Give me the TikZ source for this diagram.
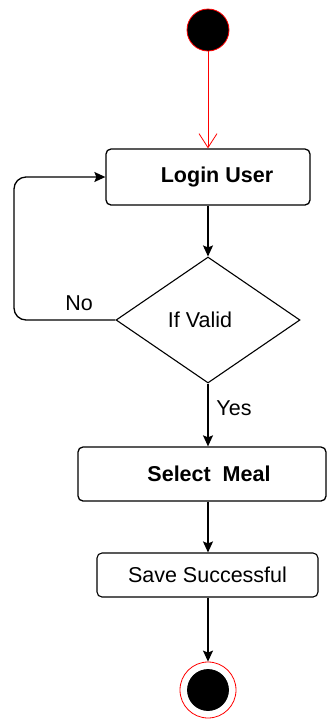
\documentclass[tikz,border=0pt]{standalone}
\usepackage{fontspec}
\setmainfont{Liberation Sans}
\usetikzlibrary{shapes.geometric,arrows.meta,positioning}

\tikzset{
  activity/.style={draw, rounded corners=5pt, line width=1.3pt, inner sep=0pt},
  flow/.style={-{Stealth[length=11pt,width=10pt,inset=2pt]}, line width=1.3pt},
  dot/.style={circle, fill=black, draw=red, line width=0.8pt, minimum size=42pt, inner sep=0pt}
}

\begin{document}
\begin{tikzpicture}[x=1pt, y=-1pt, font=\fontsize{21.5}{25}\selectfont]
\useasboundingbox (0,0) rectangle (328,721);
\node [dot] (start) at (208,30) {};
\node [activity, minimum width=204pt, minimum height=56pt] (login) at (208,177) {\hspace*{18pt}\textbf{Login User}};
\node [draw, diamond, line width=1.1pt, minimum width=184pt, minimum height=126pt, aspect=1.46, inner sep=0pt] (valid) at (208,320) {If Valid\hspace*{16pt}};
\node [activity, minimum width=248pt, minimum height=54pt] (meal) at (202,474) {\hspace*{14pt}\textbf{Select\ \ Meal}};
\node [activity, line width=1.1pt, minimum width=221pt, minimum height=44pt] (save) at (207.5,575) {Save Successful};
\node [circle, draw=red, line width=0.8pt, minimum size=56pt, inner sep=0pt] (stop) at (208,690) {};
\node [dot, draw=black, minimum size=41pt] at (stop) {};
\coordinate (back) at (14,320);

\draw [red, line width=0.8pt, -{Straight Barb[length=14pt,width=18pt]}] (start) -- (login);
\draw [flow] (login) -- (valid);
\draw [flow, rounded corners=12pt] (valid.west) -- (back) |- (login.west);
\draw [flow] (valid.south) -- (valid.south |- meal.north);
\draw [flow] (valid.south |- meal.south) -- (valid.south |- save.north);
\draw [flow] (valid.south |- save.south) -- (stop);

\node at (79,303) {No};
\node at (234,408) {Yes};
\end{tikzpicture}
\end{document}
